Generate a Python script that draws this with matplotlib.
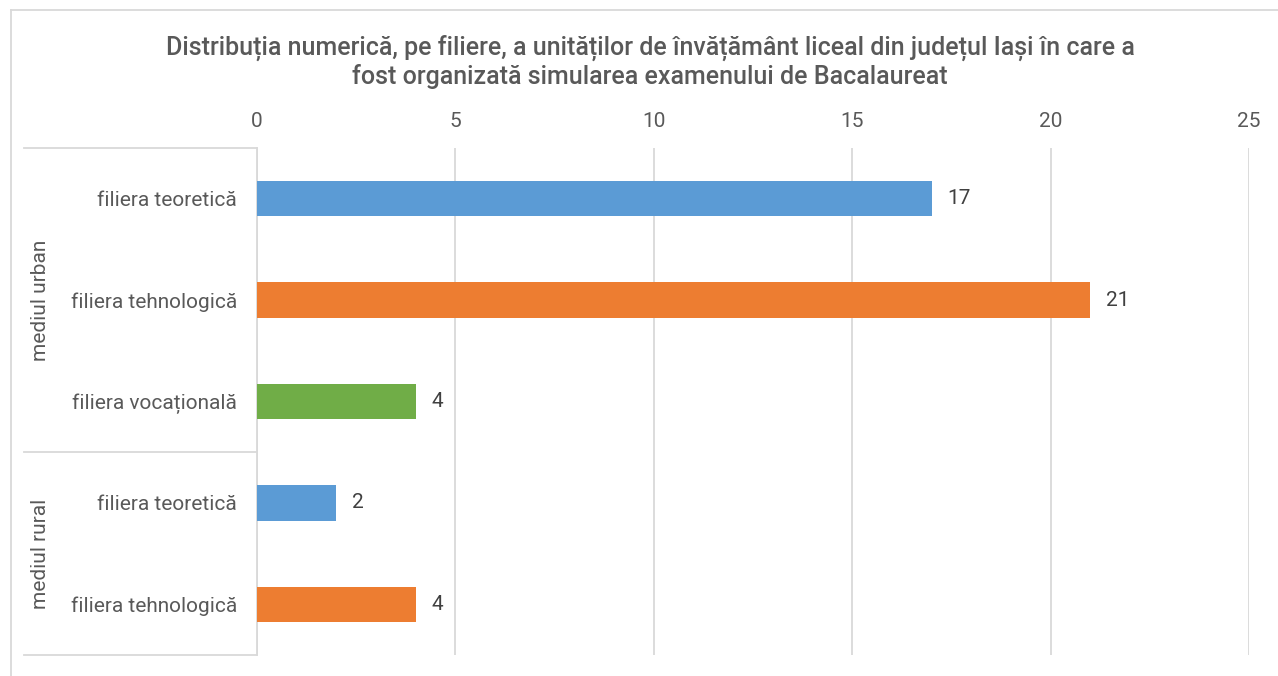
import matplotlib
matplotlib.use("Agg")
import matplotlib.pyplot as plt
from matplotlib.lines import Line2D

plt.rcParams['font.family'] = ['Roboto', 'DejaVu Sans']

# data
categories = ["filiera teoretică", "filiera tehnologică", "filiera vocațională",
              "filiera teoretică", "filiera tehnologică"]
values = [17, 21, 4, 2, 4]
bar_colors = ["#5B9BD5", "#ED7D31", "#70AD47", "#5B9BD5", "#ED7D31"]
groups = ["mediul urban", "mediul rural"]
group_sizes = [3, 2]
x_ticks = [0, 5, 10, 15, 20, 25]
title = ("Distribuția numerică, pe filiere, a unităților de învățământ liceal din județul Iași în care a\n"
         "fost organizată simularea examenului de Bacalaureat")

W, H = 1278, 676
fig = plt.figure(figsize=(W / 100, H / 100), dpi=100)

# plot area in pixels
left_px, right_px, top_px, bottom_px = 257, 1249, 148, 655
ax = fig.add_axes([left_px / W, 1 - bottom_px / H,
                   (right_px - left_px) / W, (bottom_px - top_px) / H])

pos = list(range(len(categories)))
ax.barh(pos, values, height=0.35, color=bar_colors, zorder=3)
ax.set_ylim(len(categories) - 0.5, -0.5)
ax.set_xlim(0, 25)

fs = 15
for p, v in zip(pos, values):
    ax.annotate(str(v), (v, p), xytext=(11.5, 0), textcoords="offset points",
                ha="left", va="center", fontsize=fs, color="#404040")

ax.xaxis.tick_top()
ax.set_xticks(x_ticks)
ax.set_xticklabels([str(t) for t in x_ticks])
ax.set_yticks(pos)
ax.set_yticklabels(categories)
ax.tick_params(axis="x", length=0, pad=12.5, labelsize=fs, labelcolor="#595959")
ax.tick_params(axis="y", length=0, pad=14.5, labelsize=fs, labelcolor="#595959")
ax.grid(axis="x", color="#D9D9D9", linewidth=1.3, zorder=0)
for s in ["top", "right", "bottom"]:
    ax.spines[s].set_visible(False)
ax.spines["left"].set_color("#D9D9D9")
ax.spines["left"].set_linewidth(1.3)

# group separators and labels
line_x0 = 24 / W
line_x1 = left_px / W
band = (bottom_px - top_px) / len(categories)
edges = [0]
for g in group_sizes:
    edges.append(edges[-1] + g)
for e in edges:
    yf = 1 - (top_px + e * band) / H
    fig.add_artist(Line2D([line_x0, line_x1], [yf, yf], color="#D9D9D9", linewidth=1.3))
for i, g in enumerate(groups):
    yc = top_px + (edges[i] + edges[i + 1]) / 2 * band
    fig.text(40 / W, 1 - yc / H, g, rotation=90, ha="center", va="center",
             fontsize=fs, color="#595959")

# chart border (top and left visible)
fig.add_artist(Line2D([11 / W, 11 / W], [0, 1 - 10 / H], color="#D9D9D9", linewidth=1.3))
fig.add_artist(Line2D([11 / W, 1], [1 - 10 / H, 1 - 10 / H], color="#D9D9D9", linewidth=1.3))

fig.text(650 / W, 1 - 62 / H, title, ha="center", va="center", fontsize=18,
         fontweight="medium", color="#595959", linespacing=1.15)

fig.savefig("out.png", dpi=100)
